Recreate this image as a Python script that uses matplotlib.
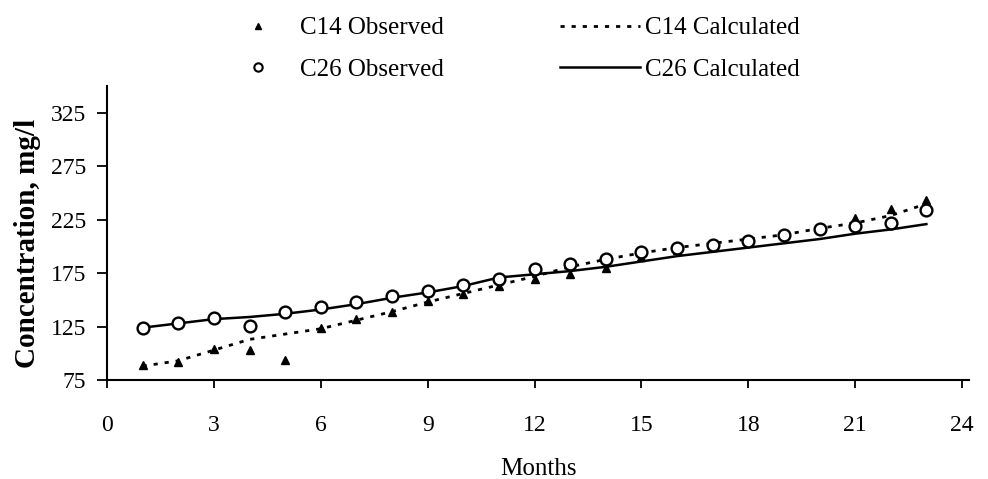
import numpy as np
import matplotlib.pyplot as plt
from matplotlib.lines import Line2D

plt.rcParams['font.family'] = ['Liberation Serif', 'DejaVu Serif']

months = np.arange(1, 24)

# observed concentrations, mg/l
c14_obs = [89, 92, 104, 103, 94, 124, 132, 139, 149, 156, 163, 170,
           174, 180, 190, 197, 200, 205, 210, 216, 227, 235, 244]
c26_obs = [124, 128, 133, 126, 139, 143, 148, 154, 158, 164, 170, 179,
           184, 188, 195, 199, 201, 205, 211, 216, 219, 222, 234]

# calculated (model) curves
c14_calc = [88, 93, 103, 113, 118, 123, 131, 139, 148, 156, 164, 172,
            181, 188, 194, 199, 203, 207, 211, 217, 222, 229, 240]
c26_calc = [124, 128, 132, 134, 137, 141, 146, 152, 157, 163, 171, 174,
            177, 181, 186, 191, 195, 199, 203, 207, 212, 216, 221]

fig = plt.figure(figsize=(9.88, 4.79), dpi=100)
ax = fig.add_axes([0.1083, 0.2067, 0.8726, 0.613])

ax.plot(months, c14_calc, color='black', lw=2.0, ls=(0, (1.5, 2.5)))
ax.plot(months, c26_calc, color='black', lw=1.8)
ax.plot(months, c14_obs, ls='none', marker='^', ms=6, color='black')
ax.plot(months, c26_obs, ls='none', marker='o', ms=8.5, mfc='white',
        mec='black', mew=1.7)

ax.set_xlim(0, 24.2)
ax.set_ylim(75, 350)
ax.set_xticks(np.arange(0, 25, 3))
ax.set_yticks(np.arange(75, 326, 50))

for s in ['top', 'right']:
    ax.spines[s].set_visible(False)
for s in ['left', 'bottom']:
    ax.spines[s].set_linewidth(1.5)

ax.tick_params(axis='x', direction='out', length=6, width=1.3, pad=19, labelsize=17)
ax.tick_params(axis='y', direction='out', length=7, width=1.3, pad=8, labelsize=17)

ax.set_xlabel('Months', fontsize=18, labelpad=16)
ax.set_ylabel('Concentration, mg/l', fontsize=21, fontweight='bold')
ax.yaxis.set_label_coords(-0.077, 0.466)

obs_handles = [
    Line2D([], [], ls='none', marker='^', ms=5, color='black'),
    Line2D([], [], ls='none', marker='o', ms=6, mfc='white', mec='black', mew=1.5),
]
calc_handles = [
    Line2D([], [], color='black', lw=2.0, ls=(0, (1.5, 2.5))),
    Line2D([], [], color='black', lw=1.8),
]

leg1 = fig.legend(obs_handles, ['C14 Observed', 'C26 Observed'],
                  loc='upper left', bbox_to_anchor=(233 / 988, 1 - 17 / 479),
                  frameon=False, fontsize=18, handlelength=2.0,
                  handletextpad=0.7, labelspacing=0.75, borderpad=0,
                  borderaxespad=0)
leg2 = fig.legend(calc_handles, ['C14 Calculated', 'C26 Calculated'],
                  loc='upper left', bbox_to_anchor=(560 / 988, 1 - 17 / 479),
                  frameon=False, fontsize=18, handlelength=3.2,
                  handletextpad=0.2, labelspacing=0.75, borderpad=0,
                  borderaxespad=0)

fig.savefig('out.png', dpi=100)
